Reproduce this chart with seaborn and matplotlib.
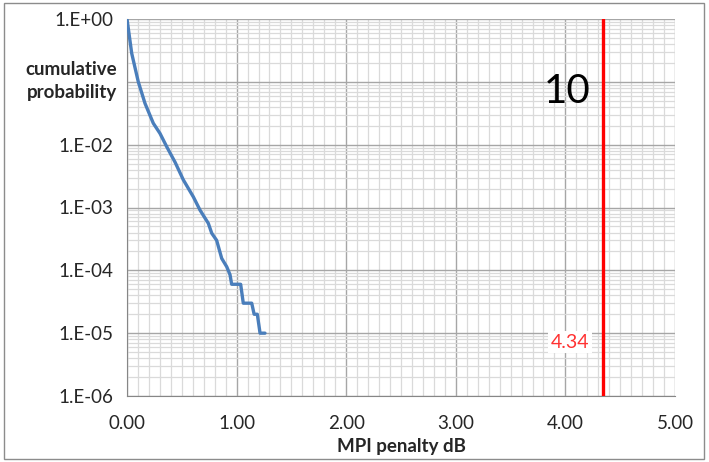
import numpy as np
import pandas as pd
import matplotlib
matplotlib.use("Agg")
import matplotlib.pyplot as plt
import seaborn as sns
from matplotlib.patches import Rectangle
from matplotlib.ticker import MultipleLocator, LogLocator, NullFormatter

# MPI penalty (dB) vs cumulative probability
penalty_db = [0.0, 0.043, 0.103, 0.164, 0.24, 0.301, 0.362, 0.44, 0.514, 0.605,
              0.666, 0.742, 0.773, 0.818, 0.864, 0.91, 0.94, 0.955, 1.037, 1.061,
              1.138, 1.16, 1.189, 1.214, 1.259]
cum_prob = [1.0, 0.284, 0.1, 0.0455, 0.0219, 0.0151, 0.0093, 0.0052, 0.00275, 0.00148,
            9.1e-4, 5.6e-4, 3.9e-4, 3.0e-4, 1.55e-4, 1.14e-4, 8.5e-5, 6e-5, 6e-5, 3e-5,
            3e-5, 2e-5, 2e-5, 1e-5, 1e-5]
limit_db = 4.34
limit_label = "4.34"
big_label = "10"

y_ticks = [1e0, 1e-1, 1e-2, 1e-3, 1e-4, 1e-5, 1e-6]
y_tick_labels = ["1.E+00", "", "1.E-02", "1.E-03", "1.E-04", "1.E-05", "1.E-06"]
x_ticks = [0, 1, 2, 3, 4, 5]
x_tick_labels = ["0.00", "1.00", "2.00", "3.00", "4.00", "5.00"]

df = pd.DataFrame({"penalty": penalty_db, "prob": cum_prob})

sns.set_style("white")
plt.rcParams["font.family"] = ["Lato", "DejaVu Sans"]

fig = plt.figure(figsize=(7.09, 4.62), dpi=100)
ax = fig.add_axes([127 / 709, 1 - 396 / 462, 548 / 709, 377 / 462])

sns.lineplot(data=df, x="penalty", y="prob", ax=ax, sort=False, estimator=None,
             color="#4a7ebb", linewidth=2.4, zorder=3)
ax.axvline(limit_db, color="#ff0000", linewidth=2.4, zorder=4)

ax.set_yscale("log")
ax.set_xlim(0, 5)
ax.set_ylim(1e-6, 1)

ax.set_xticks(x_ticks)
ax.set_xticklabels(x_tick_labels, fontsize=13.5)
ax.xaxis.set_minor_locator(MultipleLocator(0.1))
ax.set_yticks(y_ticks)
ax.set_yticklabels(y_tick_labels, fontsize=13.5)
ax.yaxis.set_minor_locator(LogLocator(base=10, subs=np.arange(2, 10), numticks=20))
ax.yaxis.set_minor_formatter(NullFormatter())

ax.grid(which="major", color="#a6a6a6", linewidth=1.0)
ax.grid(which="minor", color="#dadada", linewidth=0.9)
ax.set_axisbelow(True)
ax.tick_params(which="major", direction="out", length=5, color="#868686", width=1)
ax.tick_params(axis="x", which="major", pad=9)
ax.tick_params(axis="y", which="major", pad=5)
ax.tick_params(which="minor", length=0)
for side in ["left", "bottom"]:
    ax.spines[side].set_color("#868686")
for side in ["top", "right"]:
    ax.spines[side].set_visible(False)

ax.set_xlabel("MPI penalty dB", fontsize=13.5, fontweight="bold", labelpad=4)
ax.set_ylabel("cumulative\nprobability", fontsize=13.5, fontweight="bold",
              rotation=0, ha="right", va="center", linespacing=1.4)
ax.yaxis.set_label_coords(-0.018, 0.835)

ax.text(4.02, 0.069, big_label, fontsize=29, ha="center", va="center", color="black")
ax.text(4.04, 7.2e-6, limit_label, fontsize=14, ha="center", va="center", color="#ff3333",
        bbox=dict(facecolor="white", edgecolor="none", pad=2), zorder=5)

fig.patches.append(Rectangle((4 / 709, 3 / 462), 700 / 709, 456 / 462,
                             transform=fig.transFigure, fill=False,
                             edgecolor="#8c8c8c", linewidth=1))

fig.savefig("out.png", dpi=100)
